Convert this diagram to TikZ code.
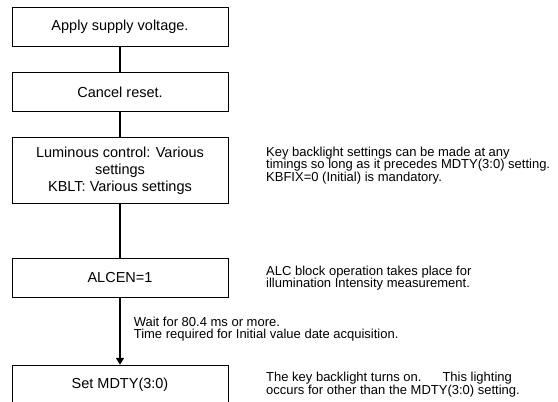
\documentclass[tikz,border=0pt]{standalone}
\usepackage{fontspec}
\setmainfont{Liberation Sans}
\usetikzlibrary{arrows.meta, positioning}

\begin{document}
\begin{tikzpicture}[>={Triangle[width=8pt,length=7pt]}, line width=1.6pt,
    box/.style={draw, line width=0.8pt, minimum width=216pt,
                minimum height=39pt, align=center,
                font=\fontsize{14.5}{17}\selectfont},
    note/.style={inner sep=0pt, align=left,
                 font=\fontsize{13}{12.5}\selectfont}]
  \useasboundingbox (0,0) rectangle (558pt,-402pt);
  \node[box] (apply) at (120pt,-26.5pt) {Apply supply voltage.};
  \node[box, below=26pt of apply] (cancel) {Cancel reset.};
  \node[box, minimum height=66pt, below=25pt of cancel] (lum)
    {Luminous control: Various\\settings\\KBLT: Various settings};
  \node[box, below=54pt of lum] (alcen) {ALCEN=1};
  \node[box, below=67pt of alcen] (mdty) {Set MDTY(3:0)};

  \node[note, right=37pt of lum, yshift=5pt] (kbnote)
    {Key backlight settings can be made at any\\
     timings so long as it precedes MDTY(3:0) setting.\\
     KBFIX=0 (Initial) is mandatory.};
  \node[note, right=37pt of alcen] (alcnote)
    {ALC block operation takes place for\\
     illumination Intensity measurement.};
  \node[note, below right=18pt and 13pt of alcen.south] (waitnote)
    {Wait for 80.4 ms or more.\\
     Time required for Initial value date acquisition.};
  \node[note, right=37pt of mdty] (mdtynote)
    {The key backlight turns on.\hspace{21pt}This lighting\\
     occurs for other than the MDTY(3:0) setting.};

  \draw (apply) -- (cancel);
  \draw (cancel) -- (lum);
  \draw (lum) -- (alcen);
  \draw[->] (alcen) -- (mdty);
\end{tikzpicture}
\end{document}
